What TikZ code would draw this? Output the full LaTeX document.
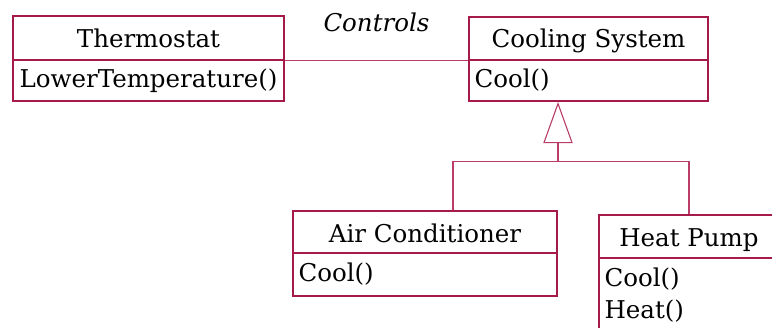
\documentclass[tikz,border=0pt]{standalone}
\usepackage{fontspec}
\setmainfont{DejaVu Serif}
\usetikzlibrary{calc}
\definecolor{umlred}{RGB}{165,25,75}
\definecolor{linkred}{RGB}{185,60,105}
\begin{document}
\begin{tikzpicture}[x=1pt,y=-1pt,
  box/.style={draw=umlred, line width=1.2pt, inner sep=0pt, rectangle},
  title/.style={anchor=base, inner sep=0pt, font=\fontsize{24.5}{32}\selectfont},
  meth/.style={anchor=base west, inner sep=0pt, align=left, font=\fontsize{24.5}{32}\selectfont},
  link/.style={draw=linkred, line width=1.1pt},
  every node/.append style={text=black}]
\useasboundingbox (0,0) rectangle (772,328);
\clip (0,0) rectangle (772,328);
% Thermostat
\node[box, minimum width=271pt, minimum height=44pt] (th) at (148.5,38) {};
\node[box, minimum width=271pt, minimum height=41pt] (thm) at (148.5,80.5) {};
\node[title] (tht) at ($(th.north)+(0,32)$) {Thermostat};
\node[meth] (thmt) at ($(thm.north west)+(7,28)$) {LowerTemperature()};
% Cooling System
\node[box, minimum width=239pt, minimum height=43pt] (cs) at (588.5,38.5) {};
\node[box, minimum width=239pt, minimum height=41pt] (csm) at (588.5,80.5) {};
\node[title] (cst) at ($(cs.north)+(0,31)$) {Cooling System};
\node[meth] (csmt) at ($(csm.north west)+(6,28)$) {Cool()};
% Air Conditioner
\node[box, minimum width=264pt, minimum height=42pt] (ac) at (425,232) {};
\node[box, minimum width=264pt, minimum height=43pt] (acm) at (425,274.5) {};
\node[title] (act) at ($(ac.north)+(0,32)$) {Air Conditioner};
\node[meth] (acmt) at ($(acm.north west)+(6,29)$) {Cool()};
% Heat Pump
\node[box, minimum width=180pt, minimum height=43pt] (hp) at (689,236.5) {};
\node[box, minimum width=180pt, minimum height=87pt] (hpm) at (689,301.5) {};
\node[title] (hpt) at ($(hp.north)+(0,32)$) {Heat Pump};
\node[meth] (hpmt) at ($(hpm.north west)+(6,61)$) {Cool()\\Heat()};
% Association
\draw[link] (th.south east) -- (cs.south west)
  node[midway, above=28pt, inner sep=0pt, font=\fontsize{24.5}{32}\selectfont\itshape] (ctl) {Controls};
% Generalization
\coordinate (tri) at ($(csm.south)+(-30.5,2)$);
\coordinate (tb) at ($(tri)+(0,39)$);
\draw[link] (tri) -- ($(tb)+(-14,0)$) -- ($(tb)+(14,0)$) -- cycle;
\coordinate (bus) at ($(tb)+(0,19)$);
\coordinate (ja) at ($(ac.north)+(28,0)$);
\draw[link] (tb) -- (bus);
\draw[link] (ja) |- (bus) -| (hp.north);
\end{tikzpicture}
\end{document}
